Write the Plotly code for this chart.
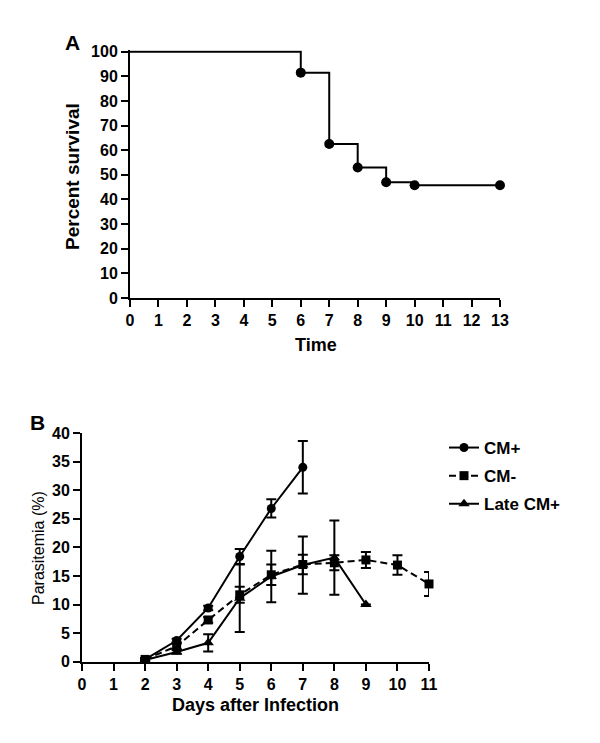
import plotly.graph_objects as go

# ---- Panel A: survival ----
surv_time = [0, 6, 7, 8, 9, 10, 13]
surv_pct = [100, 91.5, 62.5, 53.0, 47.0, 45.8, 45.8]
surv_xticks = list(range(0, 14))
surv_yticks = list(range(0, 101, 10))

# ---- Panel B: parasitemia ----
days_cm_pos = [2, 3, 4, 5, 6, 7]
cm_pos = [0.4, 3.7, 9.4, 18.4, 26.8, 34.0]
cm_pos_err = [0.2, 0.3, 0.4, 1.3, 1.6, 4.6]

days_cm_neg = [2, 3, 4, 5, 6, 7, 8, 9, 10, 11]
cm_neg = [0.4, 2.7, 7.3, 11.7, 15.2, 17.0, 17.3, 17.8, 16.9, 13.6]
cm_neg_err = [0.2, 0.5, 0.5, 1.4, 1.8, 1.7, 1.3, 1.4, 1.7, 2.1]

days_late = [2, 3, 4, 5, 6, 7, 8, 9]
late_cm_pos = [0.3, 1.7, 3.3, 11.1, 14.9, 16.9, 18.2, 10.0]
late_cm_pos_err = [0.1, 0.3, 1.5, 5.9, 4.5, 5.0, 6.5, 0.0]

para_xticks = list(range(0, 12))
para_yticks = list(range(0, 41, 5))

W, H = 600, 743
FONT = "Arial, Liberation Sans, sans-serif"


def px(x):
    return x / W


def py(y):
    return 1 - y / H


fig = go.Figure()

# Survival step curve
fig.add_trace(go.Scatter(
    x=surv_time, y=surv_pct, mode="lines", line=dict(color="black", width=2, shape="hv"),
    xaxis="x", yaxis="y", showlegend=False, cliponaxis=False, hoverinfo="skip"))
fig.add_trace(go.Scatter(
    x=surv_time[1:], y=surv_pct[1:], mode="markers",
    marker=dict(color="black", size=10, symbol="circle"),
    xaxis="x", yaxis="y", showlegend=False, cliponaxis=False))

# Parasitemia series
fig.add_trace(go.Scatter(
    x=days_cm_pos, y=cm_pos, name="CM+", mode="lines+markers",
    line=dict(color="black", width=2),
    marker=dict(color="black", size=9, symbol="circle"),
    error_y=dict(type="data", array=cm_pos_err, color="black", thickness=2, width=5),
    xaxis="x2", yaxis="y2", cliponaxis=False, legendgroup="a"))
fig.add_trace(go.Scatter(
    x=days_cm_neg, y=cm_neg, name="CM-", mode="lines+markers",
    line=dict(color="black", width=2, dash="7px,4px"),
    marker=dict(color="black", size=9, symbol="square"),
    error_y=dict(type="data", array=cm_neg_err, color="black", thickness=2, width=5),
    xaxis="x2", yaxis="y2", cliponaxis=False, legendgroup="b"))
fig.add_trace(go.Scatter(
    x=days_late, y=late_cm_pos, name="Late CM+", mode="lines+markers",
    line=dict(color="black", width=2),
    marker=dict(color="black", size=10, symbol="triangle-up"),
    error_y=dict(type="data", array=late_cm_pos_err, color="black", thickness=2, width=5),
    xaxis="x2", yaxis="y2", cliponaxis=False, legendgroup="c"))

axis_common = dict(showline=True, linewidth=2, linecolor="black", ticks="outside",
                   ticklen=7, tickwidth=2, tickcolor="black", showgrid=False,
                   zeroline=False, automargin=False,
                   tickfont=dict(family=FONT, size=16, color="black", weight="bold"))

# small headroom so the 100% line is not clipped at the plot edge
A_TOP = 100.6


def label(text, x, y, size, bold=True, angle=0):
    return dict(text=text, x=px(x), y=py(y), xref="paper", yref="paper",
                xanchor="center", yanchor="middle", showarrow=False, textangle=angle,
                font=dict(family=FONT, size=size, color="black",
                          weight="bold" if bold else "normal"))


fig.update_layout(
    width=W, height=H, margin=dict(l=0, r=0, t=0, b=0),
    paper_bgcolor="white", plot_bgcolor="white",
    font=dict(family=FONT, color="black"),
    xaxis=dict(domain=[px(130), px(500)], range=[0, 13], tickvals=surv_xticks,
               anchor="y", **axis_common),
    yaxis=dict(domain=[py(298), py(51.7 - 0.6 * 2.466)], range=[0, A_TOP], tickvals=surv_yticks,
               anchor="x", **axis_common),
    xaxis2=dict(domain=[px(82), px(429)], range=[0, 11], tickvals=para_xticks,
                anchor="y2", **axis_common),
    yaxis2=dict(domain=[py(661.7), py(433)], range=[0, 40], tickvals=para_yticks,
                anchor="x2", **axis_common),
    legend=dict(x=px(444), y=py(430), xanchor="left", yanchor="top",
                font=dict(family=FONT, size=17, color="black", weight="bold"),
                traceorder="grouped", tracegroupgap=3, bgcolor="rgba(0,0,0,0)",
                itemwidth=30),
    annotations=[
        label("A", 72, 43, 21),
        label("Percent survival", 72, 177, 19, angle=-90),
        label("Time", 316, 345, 18),
        label("B", 37, 422, 21),
        label("Parasitemia (%)", 38, 548, 16, bold=False, angle=-90),
        label("Days after Infection", 255, 705, 18),
    ],
)

fig.write_html("out.html", config={"displayModeBar": False},
               post_script="document.body.style.margin='0';document.body.style.overflow='hidden';")
